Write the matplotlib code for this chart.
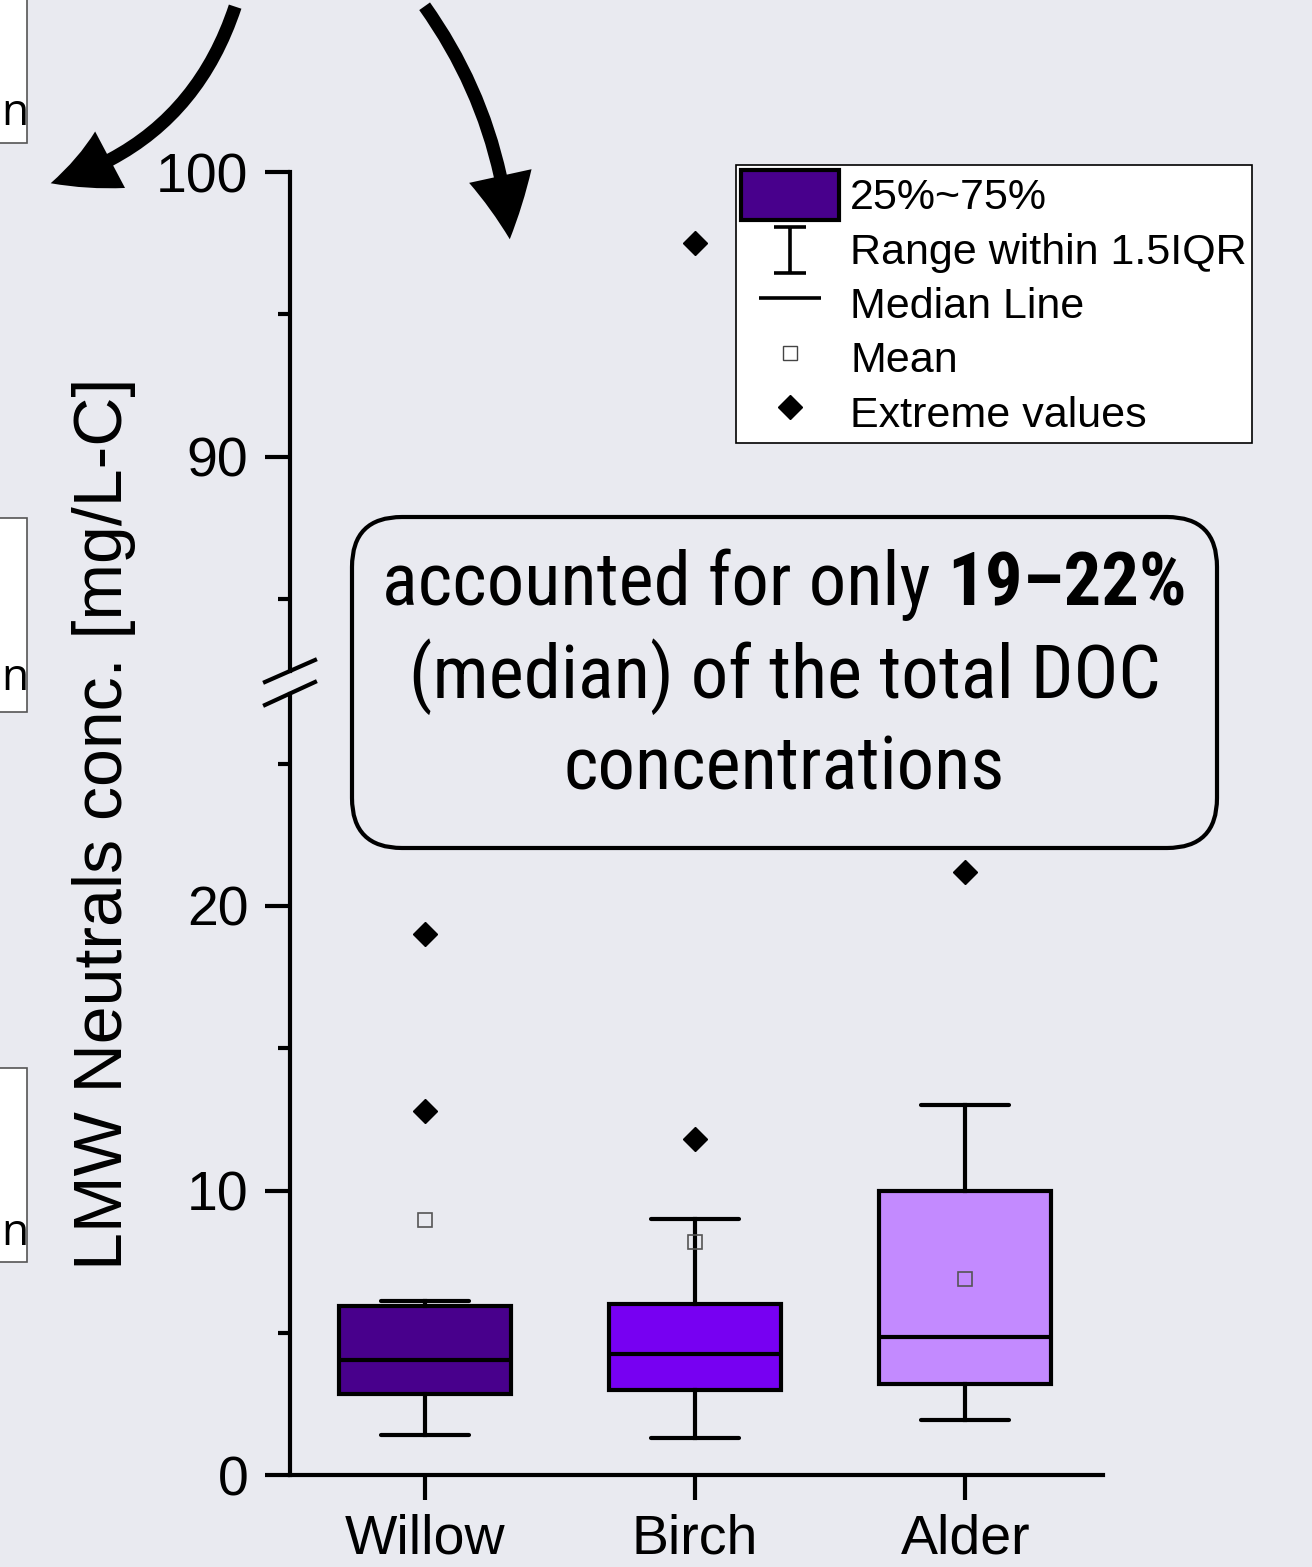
import numpy as np
import matplotlib
matplotlib.use('Agg')
import matplotlib.pyplot as plt
from matplotlib.patches import Rectangle, FancyBboxPatch, FancyArrowPatch, Patch
from matplotlib.lines import Line2D
from matplotlib.path import Path
from matplotlib.transforms import IdentityTransform
from matplotlib import font_manager as fm

# ---------------- data ----------------
categories = ['Willow', 'Birch', 'Alder']
q1 = [2.85, 3.0, 3.2]
median = [4.05, 4.25, 4.85]
q3 = [5.95, 6.0, 10.0]
whisker_low = [1.4, 1.3, 1.95]
whisker_high = [6.1, 9.0, 13.0]
means = [8.95, 8.2, 6.9]
extremes = [[12.8, 19.0], [11.8, 97.5], [21.2]]
box_colors = ['#48008C', '#7700F2', '#C38AFF']
yticks_low = [0, 10, 20]
yminor_low = [5, 15, 25]
yticks_high = [90, 100]
yminor_high = [85, 95]
legend_labels = ['25%~75%', 'Range within 1.5IQR', 'Median Line', 'Mean', 'Extreme values']
ylabel = 'LMW Neutrals conc. [mg/L-C]'
note_plain = 'accounted for only'
note_bold = '19\u201322%'
note_lines = ['(median) of the total DOC', 'concentrations']

# ---------------- figure ----------------
W, H = 1312, 1567
DPI = 100
BG = '#E9EAF0'
SANS = ['Liberation Sans', 'DejaVu Sans']
plt.rcParams['font.family'] = SANS

fig = plt.figure(figsize=(W / DPI, H / DPI), dpi=DPI, facecolor=BG)
ID = IdentityTransform()


def P(x, y):
    """image pixel (top-left origin) -> display pixel"""
    return (x, H - y)


PXU = 28.45  # pixels per data unit
x0, x1 = 290, 1103
lo_top, lo_bot = 694, 1475
hi_top, hi_bot = 172, 671
ax_lo = fig.add_axes([x0 / W, 1 - lo_bot / H, (x1 - x0) / W, (lo_bot - lo_top) / H])
ax_hi = fig.add_axes([x0 / W, 1 - hi_bot / H, (x1 - x0) / W, (hi_bot - hi_top) / H])

stats = []
for i, c in enumerate(categories):
    stats.append(dict(label=c, q1=q1[i], med=median[i], q3=q3[i],
                      whislo=whisker_low[i], whishi=whisker_high[i],
                      mean=means[i], fliers=np.array(extremes[i])))

positions = [1, 2, 3]
for ax in (ax_lo, ax_hi):
    ax.set_facecolor('none')
    res = ax.bxp(stats, positions=positions, widths=0.637, capwidths=0.326,
                 patch_artist=True, showmeans=True, showfliers=True,
                 boxprops=dict(edgecolor='black', linewidth=3),
                 medianprops=dict(color='black', linewidth=3),
                 whiskerprops=dict(color='black', linewidth=3),
                 capprops=dict(color='black', linewidth=3, solid_capstyle='round'),
                 flierprops=dict(marker='D', markerfacecolor='black',
                                 markeredgecolor='black', markersize=12,
                                 linestyle='none'),
                 meanprops=dict(marker='s', markerfacecolor='none',
                                markeredgecolor='#555555', markersize=10,
                                markeredgewidth=1.2))
    for patch, col in zip(res['boxes'], box_colors):
        patch.set_facecolor(col)
    ax.set_xlim(0.5, 3.51)
    for s in ('top', 'right'):
        ax.spines[s].set_visible(False)
    for s in ('left', 'bottom'):
        ax.spines[s].set_linewidth(3)

ax_lo.set_ylim(0, (lo_bot - lo_top) / PXU)
ax_hi.set_ylim(100 - (hi_bot - hi_top) / PXU, 100)

ax_lo.set_yticks(yticks_low)
ax_lo.set_yticks(yminor_low, minor=True)
ax_hi.set_yticks(yticks_high)
ax_hi.set_yticks(yminor_high, minor=True)
for ax in (ax_lo, ax_hi):
    ax.tick_params(axis='y', which='major', direction='out', length=18, width=3,
                   labelsize=40, pad=12)
    ax.tick_params(axis='y', which='minor', direction='out', length=9, width=3)
ax_lo.set_xticks(positions)
ax_lo.set_xticklabels(categories)
ax_lo.tick_params(axis='x', direction='out', length=18, width=3, labelsize=40, pad=10)
ax_hi.spines['bottom'].set_visible(False)
ax_hi.tick_params(axis='x', bottom=False, labelbottom=False)

# break marks
for (ya, yb) in ((682, 660), (705, 682)):
    fig.add_artist(Line2D([265, 315], [H - ya, H - yb], transform=ID,
                          color='black', lw=3))

# y label
fig.text(104, H - 824, ylabel, transform=ID, rotation=90, ha='center',
         va='center', fontsize=49)

# legend
ibeam = Path([(-0.28, 0.3), (0.28, 0.3), (0, 0.3), (0, -0.5), (-0.28, -0.5), (0.28, -0.5)],
             [Path.MOVETO, Path.LINETO, Path.MOVETO, Path.LINETO, Path.MOVETO, Path.LINETO])
handles = [
    Patch(facecolor=box_colors[0], edgecolor='black', linewidth=3),
    Line2D([], [], marker=ibeam, linestyle='none', color='black', markersize=42,
           markeredgewidth=2.6, markerfacecolor='none'),
    Line2D([], [], marker='_', linestyle='none', color='black', markersize=44,
           markeredgewidth=2.6),
    Line2D([], [], marker='s', linestyle='none', markerfacecolor='white',
           markeredgecolor='#444444', markersize=10, markeredgewidth=1),
    Line2D([], [], marker='D', linestyle='none', color='black', markersize=12),
]
leg = ax_hi.legend(handles, legend_labels, loc='upper left',
                   bbox_to_anchor=(736 / W, 1 - 165 / H), bbox_transform=fig.transFigure,
                   borderaxespad=0, frameon=True, fancybox=False, edgecolor='black',
                   framealpha=1, facecolor='white', fontsize=31,
                   handlelength=2.28, handleheight=1.41, handletextpad=0.25,
                   borderpad=0.12, labelspacing=0.1)
leg.get_frame().set_linewidth(1.2)

# annotation box
fig.add_artist(FancyBboxPatch(P(352, 848), 1217 - 352, 848 - 517,
                              boxstyle='round,pad=0,rounding_size=50', transform=ID,
                              facecolor='none', edgecolor='black', lw=3))
names = {f.name for f in fm.fontManager.ttflist}
tb_family = ['Roboto Condensed', 'Roboto', 'DejaVu Sans'] if 'Roboto Condensed' in names else ['Roboto', 'DejaVu Sans']
renderer = fig.canvas.get_renderer()


def twidth(s, size, weight='normal'):
    t = fig.text(0, 0, s, fontsize=size, family=tb_family, weight=weight, transform=ID)
    w = t.get_window_extent(renderer).width
    t.remove()
    return w


base = 50
sp = twidth('a a', base) - twidth('aa', base)
w_total = twidth(note_plain, base) + sp + twidth(note_bold, base, 'bold')
size = base * 805 / w_total
sp *= size / base
w_plain = twidth(note_plain, size)
w_bold = twidth(note_bold, size, 'bold')
cx = 784.5
start = cx - (w_plain + sp + w_bold) / 2
fig.text(start, H - 605, note_plain, transform=ID, fontsize=size, family=tb_family,
         ha='left', va='baseline')
fig.text(start + w_plain + sp, H - 605, note_bold, transform=ID, fontsize=size,
         family=tb_family, weight='bold', ha='left', va='baseline')
for line, yb in zip(note_lines, (698, 790)):
    fig.text(cx, H - yb, line, transform=ID, fontsize=size, family=tb_family,
             ha='center', va='baseline')

# curved arrows
arrow_style = 'simple,head_length=46,head_width=46,tail_width=9.5'
fig.add_artist(FancyArrowPatch(P(236, 4), P(48, 184), transform=ID,
                               connectionstyle='arc3,rad=-0.27', arrowstyle=arrow_style,
                               mutation_scale=1, color='black', lw=0))
fig.add_artist(FancyArrowPatch(P(423, 4), P(510, 242), transform=ID,
                               connectionstyle='arc3,rad=-0.14', arrowstyle=arrow_style,
                               mutation_scale=1, color='black', lw=0))

# partially visible neighbouring panel boxes on the left edge
for (yt, yb, ybase) in ((-10, 143, 125), (518, 712, 690), (1068, 1262, 1245)):
    fig.add_artist(Rectangle(P(-10, yb), 37, yb - yt, transform=ID,
                             facecolor='white', edgecolor='#555555', lw=1.2))
    fig.text(1, H - ybase, 'n', transform=ID, fontsize=32,
             family=['Open Sans', 'DejaVu Sans'], ha='left', va='baseline')

fig.savefig('out.png', dpi=DPI, facecolor=BG)
